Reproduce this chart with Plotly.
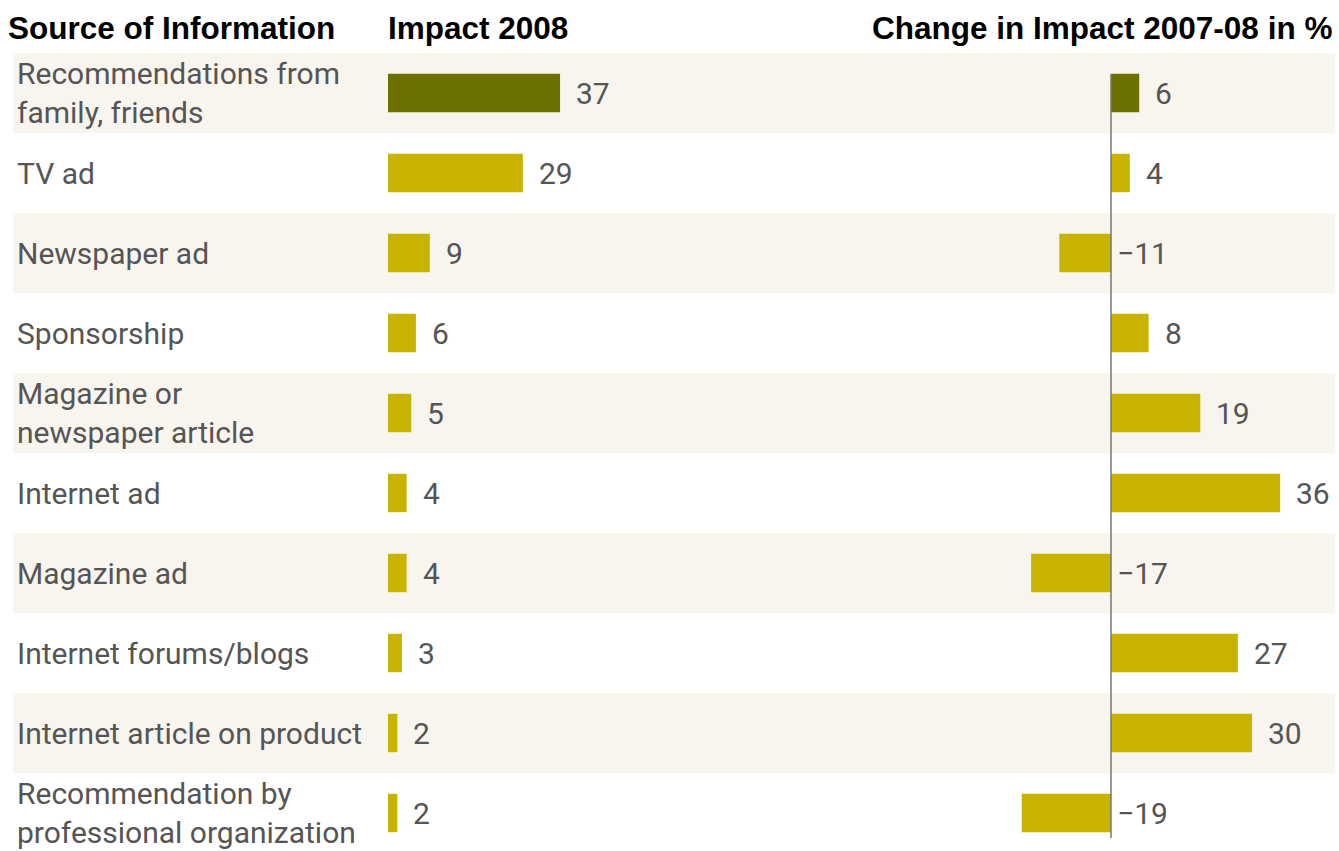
import plotly.graph_objects as go

categories = [
    "Recommendations from<br>family, friends",
    "TV ad",
    "Newspaper ad",
    "Sponsorship",
    "Magazine or<br>newspaper article",
    "Internet ad",
    "Magazine ad",
    "Internet forums/blogs",
    "Internet article on product",
    "Recommendation by<br>professional organization",
]
impact_2008 = [37, 29, 9, 6, 5, 4, 4, 3, 2, 2]
change_07_08 = [6, 4, -11, 8, 19, 36, -17, 27, 30, -19]
headers = ["Source of Information", "Impact 2008", "Change in Impact 2007-08 in %"]

W, H = 1339, 851
DARK = "#6b7000"
GOLD = "#c8b400"
BAND = "#f8f4ee"
TXT = "#555555"
LABEL_FONT = "Liberation Sans Narrow, Arial Narrow, Roboto, sans-serif"

idx = list(range(len(categories)))
colors = [DARK] + [GOLD] * (len(categories) - 1)

fig = go.Figure()
fig.add_trace(go.Bar(
    x=impact_2008, y=idx, orientation="h", marker=dict(color=colors, line=dict(width=0)),
    width=0.48, xaxis="x", yaxis="y", hoverinfo="skip", showlegend=False,
))
fig.add_trace(go.Bar(
    x=change_07_08, y=idx, orientation="h", marker=dict(color=colors, line=dict(width=0)),
    width=0.48, xaxis="x2", yaxis="y", hoverinfo="skip", showlegend=False,
))

# pixel-based axis ranges
left_zero, left_scale = 388, 4.65
right_zero, right_scale = 1111, 4.7
row0, pitch = 93, 80

fig.update_layout(
    width=W, height=H,
    margin=dict(l=0, r=0, t=0, b=0),
    paper_bgcolor="white", plot_bgcolor="white",
    barmode="overlay",
    xaxis=dict(range=[-left_zero / left_scale, (W - left_zero) / left_scale], domain=[0, 1],
               visible=False, fixedrange=True),
    xaxis2=dict(range=[-right_zero / right_scale, (W - right_zero) / right_scale], domain=[0, 1],
                overlaying="x", visible=False, fixedrange=True),
    yaxis=dict(range=[(H - row0) / pitch, -row0 / pitch], visible=False, fixedrange=True),
)

shapes = []
for i in idx:
    if i % 2 == 0:
        shapes.append(dict(type="rect", xref="paper", yref="y", x0=13 / W, x1=1335 / W,
                           y0=i - 0.5, y1=i + 0.5, fillcolor=BAND, line=dict(width=0), layer="below"))
# zero line for change chart
shapes.append(dict(type="line", xref="x2", yref="paper", x0=0, x1=0,
                   y0=1 - 838 / H, y1=1 - 74 / H, line=dict(color="#777777", width=1.5), layer="above"))
fig.update_layout(shapes=shapes)

annotations = []
for i, c in enumerate(categories):
    annotations.append(dict(xref="paper", yref="y", x=15 / W, y=i, text=c, showarrow=False,
                            xanchor="left", yanchor="middle", align="left",
                            font=dict(family=LABEL_FONT, size=30, color=TXT)))
for i, v in enumerate(impact_2008):
    annotations.append(dict(xref="x", yref="y", x=v, y=i, text=str(v), showarrow=False,
                            xanchor="left", yanchor="middle", xshift=14,
                            font=dict(family=LABEL_FONT, size=30, color=TXT)))
for i, v in enumerate(change_07_08):
    t = str(v) if v >= 0 else "\u2212" + str(-v)
    annotations.append(dict(xref="x2", yref="y", x=max(v, 0), y=i, text=t, showarrow=False,
                            xanchor="left", yanchor="middle", xshift=14 if v >= 0 else 4,
                            font=dict(family=LABEL_FONT, size=30, color=TXT)))
header_x = [6, 386, 1334]
header_anchor = ["left", "left", "right"]
for t, hx, ha in zip(headers, header_x, header_anchor):
    annotations.append(dict(xref="paper", yref="paper", x=hx / W, y=1 - 28 / H, text="<b>" + t + "</b>",
                            showarrow=False, xanchor=ha, yanchor="middle",
                            font=dict(family="Liberation Sans, Arial, sans-serif", size=31.5, color="black")))
fig.update_layout(annotations=annotations)

fig.write_html("out.html")
